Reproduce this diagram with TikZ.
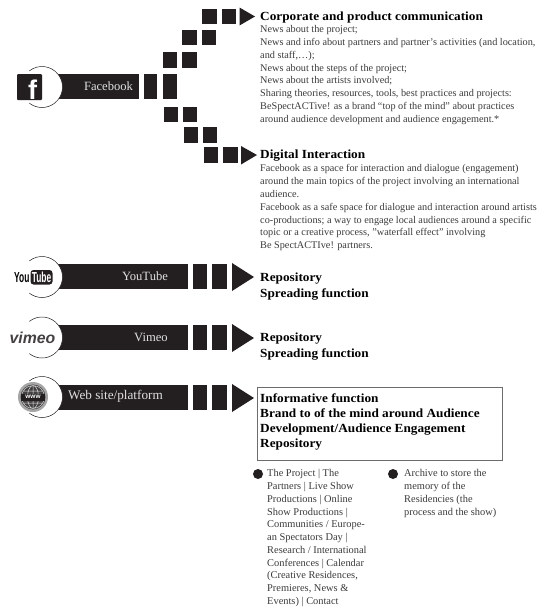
\documentclass[tikz,border=0pt]{standalone}
\usepackage{fontspec}
\setmainfont{Liberation Serif}
\newfontfamily\logofont{Liberation Sans}
\definecolor{ink}{HTML}{231F20}
\definecolor{bodytext}{HTML}{3A3A3A}
\tikzset{
  block/.style={fill=ink,draw=none},
  ring/.style={draw=ink,line width=0.5pt},
  tip/.style={fill=ink,draw=none},
  barlabel/.style={anchor=mid,text=white!88!black,font=\fontsize{12.6}{14}\selectfont,inner sep=0pt},
  bodyline/.style={anchor=base west,inner sep=0pt,text=bodytext,font=\fontsize{10.25}{12}\selectfont},
  headline/.style={anchor=base west,inner sep=0pt,text=black,xscale=1.07,font=\fontsize{12.4}{14}\selectfont\bfseries},
  listline/.style={anchor=base west,inner sep=0pt,text=bodytext,font=\fontsize{10.4}{12}\selectfont},
  dot/.style={circle,fill=ink,draw=none,minimum size=10pt,inner sep=0pt},
  framebox/.style={draw=gray!85!black,line width=1pt,fill=white}
}
\newcommand{\sq}[4]{\fill[block] (#1,#3) rectangle (#2,#4);}
\newcommand{\halo}[1]{\fill[white] (42,#1) circle (20.5);
  \draw[ring] (42,#1) ++(-128:20.5) arc[start angle=-128,end angle=128,radius=20.5];}
\begin{document}
\begin{tikzpicture}[x=1pt,y=-1pt]
\useasboundingbox (0,0) rectangle (537,608);
% facebook arm
\sq{202}{217}{9}{24}\sq{222}{236}{9}{24}
\fill[tip] (239.5,7.5) -- (255,16.5) -- (239.5,25.5) -- cycle;
\sq{182}{197}{30}{45}\sq{202}{216}{30}{45}
\sq{163}{177}{52}{68}\sq{182}{197}{52}{68}
\sq{42}{139}{74}{99}
\sq{144}{157}{74}{99}\sq{163}{177}{74}{99}
\sq{164}{178}{107}{122}\sq{183}{197}{107}{122}
\sq{184}{198}{127}{143}\sq{203}{217}{127}{143}
\sq{204}{218}{147}{163}\sq{223}{238}{147}{163}
\fill[tip] (241,146) -- (257,155) -- (241,164.5) -- cycle;
\halo{87}
\fill[ink,rounded corners=1pt] (17,74) rectangle (42,100);
\node[inner sep=0pt,text=white,font=\logofont\bfseries\fontsize{27}{27}\selectfont] at (32.5,90) {f};
\node[barlabel] at (108.5,88.5) {Facebook};
% youtube
\sq{57}{188}{264}{289}\sq{193}{207}{264}{289}\sq{212}{227}{264}{289}
\fill[tip] (232,263) -- (254,277) -- (232,291) -- cycle;
\halo{277}
\node[barlabel] at (145,278.5) {YouTube};
\node[anchor=east,inner sep=0pt,font=\logofont\bfseries\fontsize{14.5}{14.5}\selectfont,xscale=0.58] at (29.5,277.5) {You};
\fill[ink,rounded corners=3pt] (30.5,270) rectangle (52.5,284.5);
\node[inner sep=0pt,text=white,font=\logofont\bfseries\fontsize{14.5}{14.5}\selectfont,xscale=0.58] at (41.5,277.5) {Tube};
% vimeo
\sq{57}{188}{325}{350}\sq{193}{207}{325}{350}\sq{212}{227}{325}{350}
\fill[tip] (232,324) -- (254,338) -- (232,352) -- cycle;
\halo{337.5}
\node[barlabel] at (151,339) {Vimeo};
\node[inner sep=0pt,text=ink!85,font=\logofont\bfseries\itshape\fontsize{15.8}{16}\selectfont] at (32.5,338) {vimeo};
% web
\sq{57}{188}{385}{410}\sq{193}{207}{385}{410}\sq{212}{227}{385}{410}
\fill[tip] (232,384) -- (254,398) -- (232,412) -- cycle;
\halo{397}
\node[barlabel,font=\fontsize{13.2}{14}\selectfont] at (115.5,397.5) {Web site/platform};
\fill[gray!70] (33,397) circle (15);
\fill[ink!85] (33,397) circle (12.5);
\draw[white!85!black,line width=0.5pt] (33,397) circle (11.5) (33,385.5) -- (33,408.5)
 (33,397) ellipse (5.5 and 11.5) (23,391) -- (43,391) (23,403) -- (43,403);
\fill[ink] (21,393.5) rectangle (45,400.5);
\node[inner sep=0pt,text=white,font=\logofont\bfseries\fontsize{6.5}{6.5}\selectfont] at (33,397) {www};
% text blocks
\node[headline] at (260,20) {Corporate and product communication};
\foreach \yy/\tt in {32.5/{News about the project;},
 45.5/{News and info about partners and partner's activities (and location,},
 58/{and staff,…);},
 71/{News about the steps of the project;},
 83.5/{News about the artists involved;},
 96.5/{Sharing theories, resources, tools, best practices and projects:},
 109/{BeSpectACTive! as a brand “top of the mind” about practices},
 122/{around audience development and audience engagement.*}}
 {\node[bodyline] at (260,\yy) {\tt};}
\node[headline] at (260,158) {Digital Interaction};
\foreach \yy/\tt in {171.5/{Facebook as a space for interaction and dialogue (engagement)},
 184.5/{around the main topics of the project involving an international},
 197.5/{audience.},
 210.5/{Facebook as a safe space for dialogue and interaction around artists},
 223/{co-productions; a way to engage local audiences around a specific},
 235.5/{topic or a creative process, {\char34}waterfall effect{\char34} involving},
 248.5/{Be SpectACTIve! partners.}}
 {\node[bodyline] at (260,\yy) {\tt};}
\node[headline] at (260,281) {Repository};
\node[headline] at (260,297) {Spreading function};
\node[headline] at (260,341) {Repository};
\node[headline] at (260,357) {Spreading function};
\draw[framebox] (257,387) rectangle (502,460);
\node[headline] at (260,402) {Informative function};
\node[headline] at (260,417) {Brand to of the mind around Audience};
\node[headline] at (260,432) {Development/Audience Engagement};
\node[headline] at (260,447) {Repository};
\node[dot] at (258,474) {};
\node[dot] at (393,474) {};
\foreach \yy/\tt in {476.5/{The Project | The},
 489.5/{Partners | Live Show},
 502/{Productions | Online},
 515/{Show Productions |},
 527.5/{Communities / Europe-},
 540.5/{an Spectators Day |},
 553/{Research / International},
 566/{Conferences | Calendar},
 578.5/{(Creative Residences,},
 591.5/{Premieres, News \&},
 604.5/{Events) | Contact}}
 {\node[listline] at (267,\yy) {\tt};}
\foreach \yy/\tt in {476.5/{Archive to store the},
 489.5/{memory of the},
 502/{Residencies (the},
 515/{process and the show)}}
 {\node[listline] at (404,\yy) {\tt};}
\end{tikzpicture}
\end{document}
